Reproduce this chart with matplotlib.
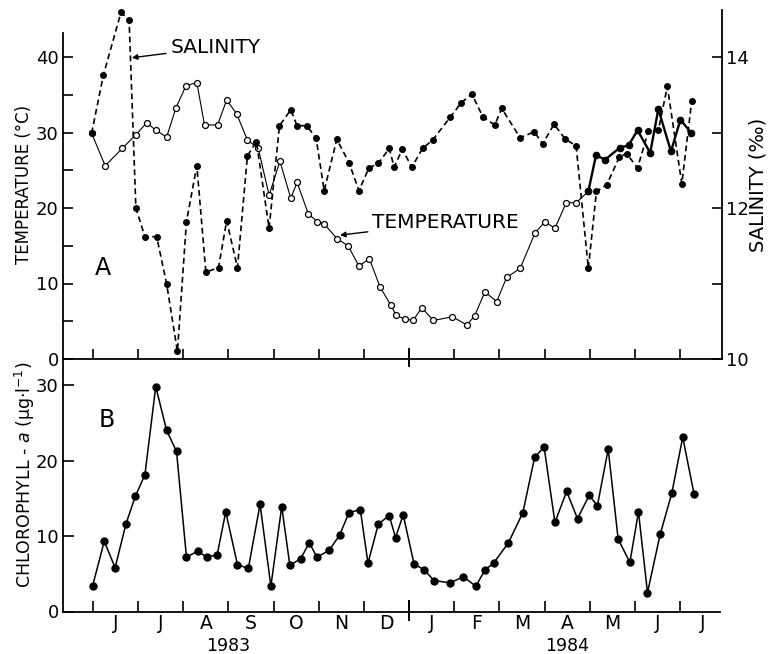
import matplotlib
matplotlib.use("Agg")
import matplotlib.pyplot as plt

# x values: months elapsed since 1 June 1983
temp_month = [-0.03, 0.27, 0.65, 0.95, 1.19, 1.39, 1.63, 1.84, 2.06, 2.30, 2.47, 2.76, 2.96,
              3.18, 3.42, 3.66, 3.90, 4.14, 4.38, 4.52, 4.77, 4.97, 5.12, 5.41, 5.65, 5.89,
              6.12, 6.36, 6.60, 6.71, 6.90, 7.09, 7.28, 7.54, 7.96, 8.28, 8.45, 8.68, 8.94,
              9.16, 9.46, 9.79, 10.01, 10.23, 10.48, 10.70, 10.97]
temp_c = [29.9, 25.6, 27.9, 29.7, 31.3, 30.3, 29.4, 33.3, 36.2, 36.6, 31.0, 31.0, 34.3,
          32.5, 29.0, 27.9, 21.7, 26.2, 21.3, 23.4, 19.2, 18.2, 17.9, 15.9, 15.0, 12.3,
          13.3, 9.5, 7.1, 5.8, 5.3, 5.1, 6.8, 5.1, 5.6, 4.5, 5.7, 8.9, 7.6,
          10.8, 12.0, 16.7, 18.2, 17.3, 20.7, 20.7, 22.2]
# later temperature record (bold line, filled dots)
temp2_month = [10.97, 11.14, 11.34, 11.67, 11.86, 12.06, 12.34, 12.52, 12.80, 13.01, 13.24]
temp2_c = [22.2, 27.0, 26.4, 28.0, 28.3, 30.3, 27.3, 33.1, 27.5, 31.7, 30.0]

sal_month = [-0.03, 0.23, 0.62, 0.80, 0.95, 1.15, 1.41, 1.63, 1.87, 2.07, 2.30, 2.50, 2.78,
             2.96, 3.20, 3.42, 3.62, 3.90, 4.13, 4.38, 4.52, 4.73, 4.94, 5.12, 5.40, 5.67,
             5.89, 6.11, 6.32, 6.56, 6.67, 6.85, 7.06, 7.30, 7.52, 7.91, 8.15, 8.39, 8.64,
             8.90, 9.05, 9.46, 9.77, 9.96, 10.21, 10.45, 10.70, 10.97, 11.15, 11.38, 11.66,
             11.82, 12.06, 12.30, 12.52, 12.72, 13.04, 13.26]
sal_ppt = [12.99, 13.76, 14.59, 14.49, 12.00, 11.62, 11.62, 11.00, 10.10, 11.82, 12.56, 11.15, 11.21,
           11.83, 11.21, 12.69, 12.88, 11.73, 13.09, 13.30, 13.09, 13.09, 12.93, 12.23, 12.91, 12.60,
           12.23, 12.53, 12.59, 12.79, 12.54, 12.78, 12.54, 12.79, 12.90, 13.20, 13.39, 13.51, 13.20,
           13.10, 13.32, 12.93, 13.01, 12.85, 13.11, 12.92, 12.82, 11.20, 12.22, 12.31, 12.68,
           12.72, 12.53, 13.02, 13.03, 13.61, 12.32, 13.42]

chl_month = [-0.01, 0.25, 0.49, 0.73, 0.94, 1.15, 1.39, 1.63, 1.85, 2.07, 2.32, 2.52, 2.75,
             2.94, 3.20, 3.44, 3.70, 3.94, 4.18, 4.36, 4.60, 4.79, 4.96, 5.23, 5.46, 5.67,
             5.92, 6.09, 6.32, 6.56, 6.70, 6.87, 7.11, 7.34, 7.55, 7.91, 8.20, 8.48, 8.68,
             8.87, 9.20, 9.52, 9.78, 9.99, 10.23, 10.49, 10.73, 10.99, 11.17, 11.41, 11.63,
             11.89, 12.08, 12.28, 12.56, 12.82, 13.06, 13.31]
chl_ug = [3.35, 9.3, 5.8, 11.6, 15.3, 18.1, 29.8, 24.0, 21.2, 7.2, 8.0, 7.2, 7.5,
          13.2, 6.2, 5.7, 14.2, 3.35, 13.9, 6.1, 7.0, 9.1, 7.2, 8.1, 10.1, 13.1,
          13.5, 6.4, 11.6, 12.7, 9.8, 12.8, 6.3, 5.5, 4.1, 3.8, 4.6, 3.35, 5.5,
          6.4, 9.1, 13.1, 20.4, 21.8, 11.8, 15.9, 12.3, 15.4, 14.0, 21.5, 9.6,
          6.5, 13.2, 2.5, 10.2, 15.7, 23.1, 15.6]

month_labels = ["J", "J", "A", "S", "O", "N", "D", "J", "F", "M", "A", "M", "J", "J"]
year_labels = ["1983", "1984"]
year_pos = [3.0, 10.5]

plt.rcParams['font.family'] = ['DejaVu Sans']

W, H = 768, 654
fig = plt.figure(figsize=(W / 100, H / 100), dpi=100)

def fx(px):
    return px / W

def fy(py):
    return 1 - py / H

left, right = 63, 722
top_top, mid, bot = 10, 359, 611.5
ax = fig.add_axes([fx(left), fy(mid), fx(right - left), (mid - top_top) / H])
axb = fig.add_axes([fx(left), fy(bot), fx(right - left), (bot - mid) / H])

xlim = (-0.664, 13.93)
t_top = (mid - top_top) / 7.55

# ---- top panel
ax.plot(temp_month, temp_c, '-', color='k', lw=0.8, marker='o', ms=4.3,
        mfc='white', mec='k', mew=0.9, zorder=3)
ax.plot(temp2_month, temp2_c, '-', color='k', lw=1.7, marker='o', ms=4.5,
        mfc='k', mec='k', zorder=4)
ax.set_xlim(*xlim)
ax.set_ylim(0, t_top)

ax2 = ax.twinx()
ax2.plot(sal_month, sal_ppt, color='k', lw=1.2, ls=(0, (3.5, 2.2)), marker='o', ms=4.0,
         mfc='k', mec='k', zorder=3, clip_on=False)
ax2.set_ylim(10, 10 + t_top / 10)
ax2.set_xlim(*xlim)

for a in (ax, ax2):
    a.spines['top'].set_visible(False)
    a.patch.set_visible(False)
ax.spines['right'].set_visible(False)
ax2.spines['left'].set_visible(False)
ax2.spines['bottom'].set_visible(False)
ax.spines['left'].set_bounds(0, (mid - 33) / 7.55)
for s in ['left', 'bottom']:
    ax.spines[s].set_linewidth(1.3)
ax2.spines['right'].set_linewidth(1.3)

ax.set_yticks([0, 10, 20, 30, 40])
ax.set_yticks([5, 15, 25, 35], minor=True)
ax.tick_params(axis='y', which='both', direction='in', length=7, width=1.2,
               labelsize=13, pad=3)
ax.set_xticks(range(0, 14))
ax.tick_params(axis='x', which='both', direction='in', length=7, width=1.2,
               labelbottom=False)

ax2.set_yticks([10, 12, 14])
ax2.set_yticks([11, 13], minor=True)
ax2.tick_params(axis='y', which='both', direction='in', length=7, width=1.2,
                labelsize=13, pad=3)

ax.annotate("SALINITY", xy=(0.86, 39.9), xytext=(1.71, 41.3), fontsize=14.5,
            va='center', ha='left',
            arrowprops=dict(arrowstyle='-|>', lw=1.0, color='k', shrinkA=1,
                            shrinkB=0, mutation_scale=8))
ax.annotate("TEMPERATURE", xy=(5.47, 16.4), xytext=(6.18, 18.1), fontsize=14.5,
            va='center', ha='left',
            arrowprops=dict(arrowstyle='-|>', lw=1.0, color='k', shrinkA=1,
                            shrinkB=0, mutation_scale=8))
ax.text(0.22, 12.0, "A", fontsize=17, ha='center', va='center')

# ---- bottom panel
axb.plot(chl_month, chl_ug, '-', color='k', lw=1.1, marker='o', ms=5, mfc='k', mec='k')
axb.set_xlim(*xlim)
axb.set_ylim(0, (bot - mid) / 7.55)
axb.spines['top'].set_visible(False)
axb.spines['right'].set_visible(False)
axb.patch.set_visible(False)
for s in ['left', 'bottom']:
    axb.spines[s].set_linewidth(1.3)
axb.spines['bottom'].set_bounds(xlim[0], 13.88)
axb.set_yticks([0, 10, 20, 30])
axb.tick_params(axis='y', direction='in', length=8, width=1.2, labelsize=13, pad=3)
axb.set_xticks(range(0, 14))
axb.set_xticks([i + 0.5 for i in range(14)], minor=True)
axb.set_xticklabels([])
axb.set_xticklabels(month_labels, minor=True)
axb.tick_params(axis='x', which='major', direction='in', length=8, width=1.2)
axb.tick_params(axis='x', which='minor', length=0, labelsize=13.5, pad=2)
axb.text(0.31, 25.4, "B", fontsize=17, ha='center', va='center')
for yl, xp in zip(year_labels, year_pos):
    axb.text(xp, -0.137, yl, transform=axb.get_xaxis_transform(), fontsize=12.5,
             ha='center', va='center')

# year-break ticks crossing the axes
ax.axvline(7, ymin=-0.02, ymax=0.03, color='k', lw=1.4, clip_on=False)
axb.axvline(7, ymin=-0.035, ymax=0.04, color='k', lw=1.4, clip_on=False)

# axis titles
fig.text(fx(24), fy(184), "TEMPERATURE (°C)", rotation=90, fontsize=12,
         ha='center', va='center')
fig.text(fx(25), fy(475), "CHLOROPHYLL - $a$ (µg·l$^{-1}$)", rotation=90, fontsize=12.5,
         ha='center', va='center')
fig.text(fx(758), fy(185), "SALINITY (‰)", rotation=90, fontsize=14,
         ha='center', va='center')

fig.savefig("out.png", dpi=100)
